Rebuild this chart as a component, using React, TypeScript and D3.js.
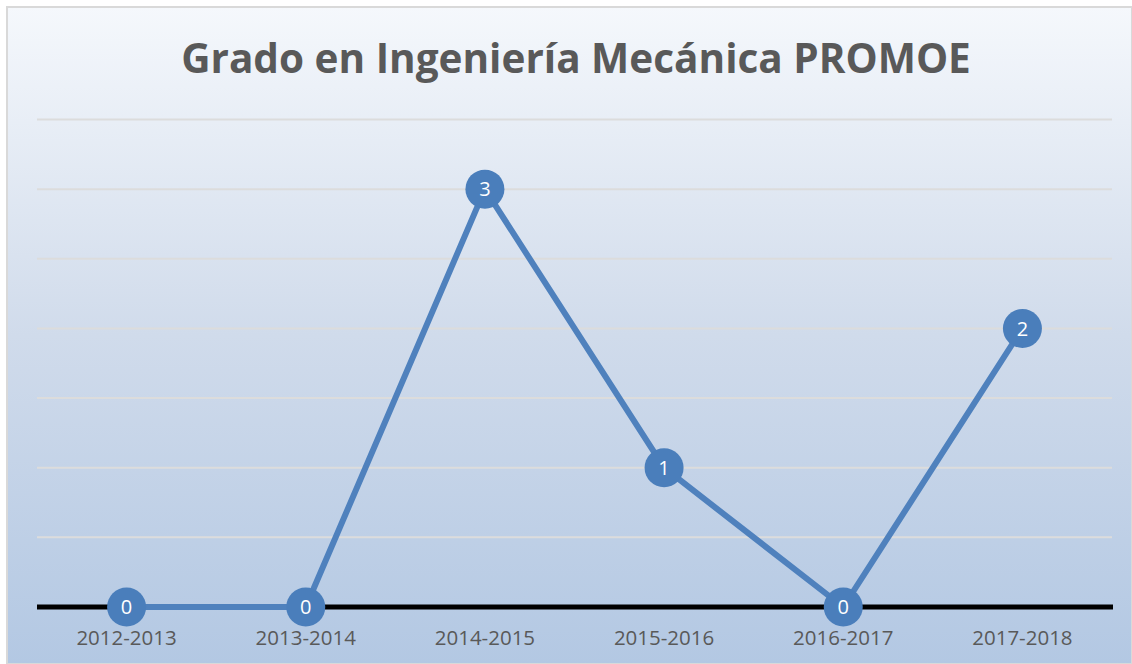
import React, { useEffect, useRef } from 'react';
import * as d3 from 'd3';

const TITLE = 'Grado en Ingeniería Mecánica PROMOE';
const YEARS: string[] = ['2012-2013', '2013-2014', '2014-2015', '2015-2016', '2016-2017', '2017-2018'];
const COUNTS: number[] = [0, 0, 3, 1, 0, 2];
const GRID_TICKS: number[] = [0.5, 1, 1.5, 2, 2.5, 3, 3.5];

const FONT = '"Open Sans", "Noto Sans", sans-serif';

const App: React.FC = () => {
  const ref = useRef<SVGSVGElement>(null);

  useEffect(() => {
    const svgEl = ref.current;
    if (!svgEl) return;
    const W = 1132;
    const H = 664;
    const svg = d3.select(svgEl);
    svg.selectAll('*').remove();

    const defs = svg.append('defs');
    const grad = defs
      .append('linearGradient')
      .attr('id', 'bg')
      .attr('x1', 0)
      .attr('y1', 0)
      .attr('x2', 0)
      .attr('y2', 1);
    grad.append('stop').attr('offset', '0%').attr('stop-color', '#f5f8fc');
    grad.append('stop').attr('offset', '50%').attr('stop-color', '#d0dbeb');
    grad.append('stop').attr('offset', '100%').attr('stop-color', '#b3c8e3');

    svg
      .append('rect')
      .attr('x', 7)
      .attr('y', 7)
      .attr('width', W - 7)
      .attr('height', H - 7)
      .attr('fill', 'url(#bg)')
      .attr('stroke', '#d9d9d9')
      .attr('stroke-width', 2);

    svg
      .append('text')
      .attr('x', 576)
      .attr('y', 73)
      .attr('text-anchor', 'middle')
      .attr('fill', '#595959')
      .attr('font-family', FONT)
      .attr('font-weight', 700)
      .attr('font-size', 40.5)
      .text(TITLE);

    const x = d3.scaleBand<string>().domain(YEARS).range([37, 1112]);
    const y = d3.scaleLinear().domain([0, 3.5]).range([607, 119.5]);
    const cx = (d: string) => (x(d) ?? 0) + x.bandwidth() / 2;

    svg
      .append('g')
      .selectAll('line')
      .data(GRID_TICKS)
      .join('line')
      .attr('x1', 37)
      .attr('x2', 1112)
      .attr('y1', (d) => y(d))
      .attr('y2', (d) => y(d))
      .attr('stroke', '#dcdcdc')
      .attr('stroke-width', 2);

    svg
      .append('line')
      .attr('x1', 37)
      .attr('x2', 1113)
      .attr('y1', y(0))
      .attr('y2', y(0))
      .attr('stroke', '#000')
      .attr('stroke-width', 5);

    svg
      .append('g')
      .selectAll('text')
      .data(YEARS)
      .join('text')
      .attr('x', (d) => cx(d))
      .attr('y', 645)
      .attr('text-anchor', 'middle')
      .attr('fill', '#595959')
      .attr('font-family', FONT)
      .attr('font-size', 20.5)
      .text((d) => d);

    const pts = YEARS.map((d, i) => ({ year: d, v: COUNTS[i] }));
    const line = d3
      .line<{ year: string; v: number }>()
      .x((d) => cx(d.year))
      .y((d) => y(d.v));

    svg
      .append('path')
      .datum(pts)
      .attr('d', line)
      .attr('fill', 'none')
      .attr('stroke', '#4f81bd')
      .attr('stroke-width', 6)
      .attr('stroke-linejoin', 'round');

    svg
      .append('g')
      .selectAll('circle')
      .data(pts)
      .join('circle')
      .attr('cx', (d) => cx(d.year))
      .attr('cy', (d) => y(d.v))
      .attr('r', 19.5)
      .attr('fill', '#4a7ebb');

    svg
      .append('g')
      .selectAll('text')
      .data(pts)
      .join('text')
      .attr('x', (d) => cx(d.year))
      .attr('y', (d) => y(d.v))
      .attr('dy', '0.36em')
      .attr('text-anchor', 'middle')
      .attr('fill', '#ffffff')
      .attr('font-family', FONT)
      .attr('font-size', 20)
      .text((d) => String(d.v));
  }, []);

  return (
    <svg
      ref={ref}
      width={1132}
      height={664}
      style={{ position: 'absolute', left: 0, top: 0, display: 'block' }}
    />
  );
};

export default App;
